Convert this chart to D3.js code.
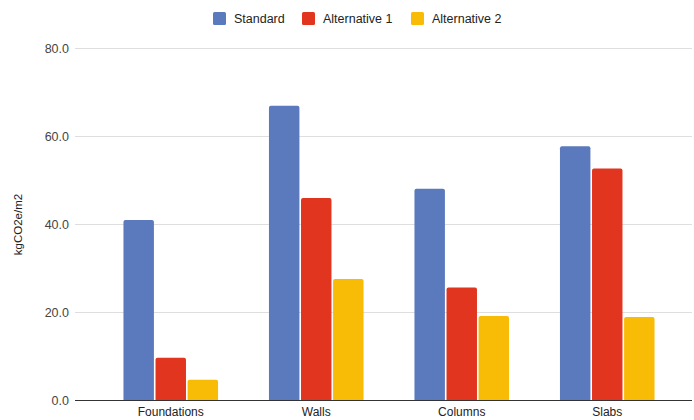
<!DOCTYPE html>
<html>
<head>
<meta charset="utf-8">
<script src="https://cdn.jsdelivr.net/npm/d3@7"></script>
<style>
  body { margin: 0; background: #fff; }
  svg { display: block; font-family: "Liberation Sans", Arial, sans-serif; }
</style>
</head>
<body>
<svg id="chart" width="694" height="420"></svg>
<script>
// categories, series and values
const categories = ['Foundations', 'Walls', 'Columns', 'Slabs'];
const seriesNames = ['Standard', 'Alternative 1', 'Alternative 2'];
const standard = [41.0, 67.0, 48.1, 57.8];
const alternative1 = [9.7, 46.0, 25.7, 52.7];
const alternative2 = [4.7, 27.6, 19.2, 19.0];
const yTicks = [0, 20, 40, 60, 80];
const colors = ['#5b79bd', '#e2351f', '#f8bb06'];

const values = [standard, alternative1, alternative2];
const rows = categories.flatMap((c, i) =>
  seriesNames.map((s, j) => ({ category: c, series: s, value: values[j][i], color: colors[j] }))
);

const svg = d3.select('#chart');
const gridLeft = 75, gridRight = 692;

const x = d3.scaleBand().domain(categories).range([98, 680]).paddingInner(0.35).paddingOuter(0.175);
const x1 = d3.scaleBand().domain(seriesNames).range([0, x.bandwidth()]).paddingInner(0.05);
const y = d3.scaleLinear().domain([0, 80]).range([400.5, 48.5]);

// gridlines + tick labels
svg.append('g').selectAll('line').data(yTicks.filter(t => t > 0))
  .join('line')
  .attr('x1', gridLeft).attr('x2', gridRight)
  .attr('y1', d => y(d)).attr('y2', d => y(d))
  .attr('stroke', '#dedede').attr('stroke-width', 1);

svg.append('g').selectAll('text').data(yTicks)
  .join('text')
  .attr('x', 69)
  .attr('y', d => y(d) + 4.5)
  .attr('text-anchor', 'end')
  .attr('fill', '#444')
  .attr('font-size', '12.5px')
  .text(d => d.toFixed(1));

// bars, rounded at the top only
function barPath(x0, w, yTop, yBase, r) {
  r = Math.min(r, (yBase - yTop) / 2);
  return `M${x0},${yBase}V${yTop + r}Q${x0},${yTop} ${x0 + r},${yTop}` +
    `H${x0 + w - r}Q${x0 + w},${yTop} ${x0 + w},${yTop + r}V${yBase}Z`;
}

svg.append('g').selectAll('path').data(rows)
  .join('path')
  .attr('d', d => barPath(x(d.category) + x1(d.series), x1.bandwidth(), y(d.value), y(0), 2))
  .attr('fill', d => d.color);

// baseline
svg.append('line')
  .attr('x1', gridLeft).attr('x2', gridRight)
  .attr('y1', y(0)).attr('y2', y(0))
  .attr('stroke', '#333').attr('stroke-width', 1.2);

// category labels
svg.append('g').selectAll('text').data(categories)
  .join('text')
  .attr('x', d => x(d) + x.bandwidth() / 2)
  .attr('y', 416)
  .attr('text-anchor', 'middle')
  .attr('fill', '#222')
  .attr('font-size', '12px')
  .text(d => d);

// y axis title
svg.append('text')
  .attr('transform', `translate(22, ${y(40)}) rotate(-90)`)
  .attr('text-anchor', 'middle')
  .attr('fill', '#222')
  .attr('font-size', '11.5px')
  .text('kgCO2e/m2');

// legend
const legendX = [213, 302, 411];
const legend = svg.append('g').selectAll('g').data(seriesNames)
  .join('g')
  .attr('transform', (d, i) => `translate(${legendX[i]}, 12)`);
legend.append('rect')
  .attr('width', 13).attr('height', 13).attr('rx', 1.5)
  .attr('fill', (d, i) => colors[i]);
legend.append('text')
  .attr('x', 21).attr('y', 11)
  .attr('fill', '#222')
  .attr('font-size', '12.5px')
  .text(d => d);
</script>
</body>
</html>
